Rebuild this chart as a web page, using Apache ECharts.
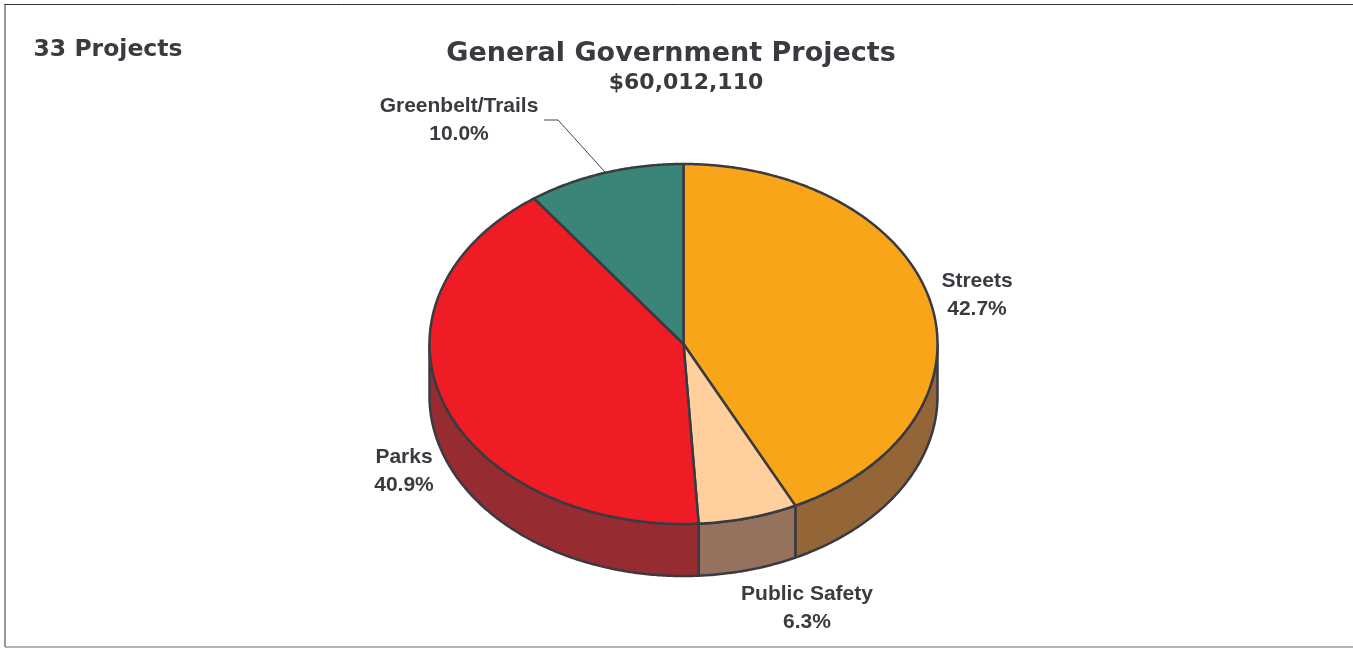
<!DOCTYPE html>
<html><head><meta charset="utf-8">
<style>html,body{margin:0;padding:0;background:#fff}#c{width:1353px;height:648px}</style>
<script src="https://cdn.jsdelivr.net/npm/echarts@6/dist/echarts.min.js"></script>
</head><body><div id="c"></div>
<script>
const categories = ['Streets', 'Public Safety', 'Parks', 'Greenbelt/Trails'];
const shares = [42.7, 6.3, 40.9, 10.0];
const topColors = ['#F9A51A', '#FFD09E', '#EF1C25', '#3B8478'];
const wallColors = ['#936537', '#94725E', '#972B32', '#3B8478'];
const titleText = 'General Government Projects';
const subtitleText = '$60,012,110';
const countText = '33 Projects';

const CX = 683.5, CY = 344, RX = 254, RY = 180, DEPTH = 52;
const INK = '#3a3a40';
const LABEL_FONT = 'bold 21px "Liberation Sans", Arial, sans-serif';
const COMIC_FONT = '"DejaVu Sans", sans-serif';

const total = shares.reduce((a, b) => a + b, 0);
let running = 0;
const spans = shares.map((v, i) => {
  const from = running; running += v;
  return [from / total * 360, running / total * 360, i];
});
const rad = d => d * Math.PI / 180;
const onRim = (deg, dy) => [CX + RX * Math.sin(rad(deg)), CY - RY * Math.cos(rad(deg)) + (dy || 0)];
function arc(a, b, dy) {
  const pts = [], n = Math.max(2, Math.ceil(Math.abs(b - a) * 2));
  for (let k = 0; k <= n; k++) pts.push(onRim(a + (b - a) * k / n, dy));
  return pts;
}
const lineStyle = { stroke: '#3a3a42', lineWidth: 2.5, lineJoin: 'round' };

function renderTop(params, api) {
  const a = api.value(0), b = api.value(1), i = api.value(2);
  return { type: 'polygon', shape: { points: [[CX, CY]].concat(arc(a, b)) },
    style: Object.assign({ fill: topColors[i] }, lineStyle) };
}
function renderWall(params, api) {
  const a = Math.max(api.value(0), 90), b = Math.min(api.value(1), 270), i = api.value(2);
  if (b <= a) return { type: 'group', children: [] };
  return { type: 'polygon', shape: { points: arc(a, b, 0).concat(arc(b, a, DEPTH)) },
    style: Object.assign({ fill: wallColors[i] }, lineStyle) };
}
const label = (i, x, y) => ({
  type: 'text', x, y,
  style: { text: categories[i] + '\n' + shares[i].toFixed(1) + '%', font: LABEL_FONT, fill: INK,
    align: 'center', verticalAlign: 'middle', lineHeight: 28 }
});
const chart = echarts.init(document.getElementById('c'), null, { renderer: 'canvas' });
chart.setOption({
  animation: false,
  backgroundColor: '#fff',
  series: [
    { type: 'custom', coordinateSystem: 'none', renderItem: renderWall, data: spans, z: 1, silent: true },
    { type: 'custom', coordinateSystem: 'none', renderItem: renderTop, data: spans, z: 2, silent: true }
  ],
  graphic: [
    { type: 'line', shape: { x1: 4.5, y1: 4.5, x2: 1353, y2: 4.5 }, style: { stroke: '#333', lineWidth: 1 } },
    { type: 'line', shape: { x1: 5, y1: 4, x2: 5, y2: 647 }, style: { stroke: '#333', lineWidth: 1 } },
    { type: 'line', shape: { x1: 5, y1: 647, x2: 1353, y2: 647 }, style: { stroke: '#999', lineWidth: 1.5 } },
    { type: 'polyline', z: 0, shape: { points: [[544, 120], [558, 120], [605, 172]] }, style: { stroke: '#444', lineWidth: 1, fill: null } },
    { type: 'text', x: 108, y: 50, style: { text: countText, font: 'bold 23.5px ' + COMIC_FONT, fill: INK, align: 'center', verticalAlign: 'middle' } },
    { type: 'text', x: 671, y: 54, style: { text: titleText, font: 'bold 27px ' + COMIC_FONT, fill: INK, align: 'center', verticalAlign: 'middle' } },
    { type: 'text', x: 686, y: 83, style: { text: subtitleText, font: 'bold 22px ' + COMIC_FONT, fill: INK, align: 'center', verticalAlign: 'middle' } },
    label(0, 977, 295),
    label(1, 807, 608),
    label(2, 404, 471),
    label(3, 459, 120)
  ]
});
</script></body></html>
